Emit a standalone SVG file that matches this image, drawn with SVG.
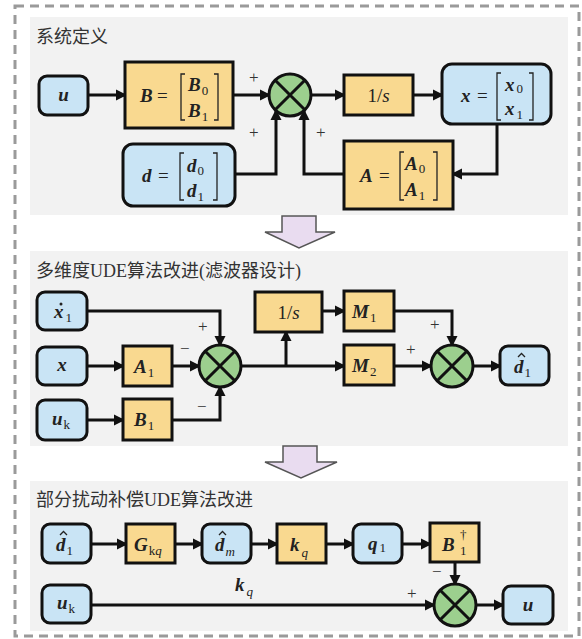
<svg xmlns="http://www.w3.org/2000/svg" width="582" height="639" viewBox="0 0 582 639">
  <style>
    .frame { fill: none; stroke: #9a9a9a; stroke-width: 3; stroke-dasharray: 9 6; }
    .panel { fill: #f2f2f2; }
    .title { font-family: "Liberation Serif", "Noto Sans CJK SC", serif; font-size: 18px; fill: #333; }
    .blk { fill: #f9d990; stroke: #111; stroke-width: 3; }
    .sig { fill: #c9e4f5; stroke: #111; stroke-width: 3; }
    .sum { fill: #9ccf8e; stroke: #111; stroke-width: 3; }
    .xl { stroke: #111; stroke-width: 3; }
    .wire { fill: none; stroke: #111; stroke-width: 3; }
    .arr { marker-end: url(#ah); }
    .brk { fill: none; stroke: #222; stroke-width: 1.3; }
    .hat { fill: none; stroke: #222; stroke-width: 1.3; }
    .m { font-family: "Liberation Serif", serif; font-size: 19px; font-weight: bold; font-style: italic; fill: #222; }
    .r { font-family: "Liberation Serif", serif; font-size: 19px; fill: #222; }
    .sub { font-family: "Liberation Serif", serif; font-size: 13px; font-weight: normal; font-style: normal; fill: #222; }
    .subi { font-family: "Liberation Serif", serif; font-size: 13px; font-weight: normal; font-style: italic; fill: #222; }
    .sgn { font-family: "Liberation Serif", serif; font-size: 17px; fill: #333; }
    .big { fill: #e9dcf0; stroke: #555; stroke-width: 1.5; }
  </style>
  <defs>
    <marker id="ah" markerWidth="12" markerHeight="12" refX="9" refY="6" orient="auto" markerUnits="userSpaceOnUse">
      <path d="M0,0.5 L11,6 L0,11.5 z" fill="#111"/>
    </marker>
  </defs>

  <rect width="582" height="639" fill="#ffffff"/>
  <rect class="frame" x="15" y="6" width="564" height="630"/>

  <!-- panels -->
  <rect class="panel" x="30" y="17" width="538" height="198"/>
  <rect class="panel" x="30" y="251" width="538" height="195"/>
  <rect class="panel" x="30" y="481" width="538" height="150"/>

  <text class="title" x="36" y="43">系统定义</text>
  <text class="title" x="36" y="277">多维度UDE算法改进(滤波器设计)</text>
  <text class="title" x="36" y="506">部分扰动补偿UDE算法改进</text>

  <!-- transition arrows -->
  <polygon class="big" points="282,216 316,216 316,232 335,232 299,248 265,232 282,232"/>
  <polygon class="big" points="283,446 317,446 317,462 337,462 301,478 265,462 283,462"/>

  <!-- connectors -->
  <g id="connectors">
    <!-- system definition -->
    <path class="wire arr" d="M88,95 H125"/>
    <path class="wire arr" d="M233,95 H269"/>
    <path class="wire arr" d="M235,174 H276 V111"/>
    <path class="wire arr" d="M344,174 H304 V111"/>
    <path class="wire arr" d="M311,95 H344"/>
    <path class="wire arr" d="M413,95 H442"/>
    <path class="wire arr" d="M497,125 V174 H453"/>
    <!-- filter design -->
    <path class="wire arr" d="M87,311 H220 V345"/>
    <path class="wire arr" d="M87,366 H123"/>
    <path class="wire arr" d="M172,366 H199"/>
    <path class="wire arr" d="M87,420 H123"/>
    <path class="wire arr" d="M172,420 H220 V387"/>
    <path class="wire arr" d="M241,366 H344"/>
    <path class="wire arr" d="M286,366 V332"/>
    <path class="wire arr" d="M322,311 H344"/>
    <path class="wire arr" d="M394,311 H452 V345"/>
    <path class="wire arr" d="M394,366 H431"/>
    <path class="wire arr" d="M473,366 H500"/>
    <!-- partial compensation -->
    <path class="wire arr" d="M91,544 H126"/>
    <path class="wire arr" d="M175,544 H202"/>
    <path class="wire arr" d="M251,544 H277"/>
    <path class="wire arr" d="M326,544 H353"/>
    <path class="wire arr" d="M402,544 H430"/>
    <path class="wire arr" d="M455,562 V584"/>
    <path class="wire arr" d="M91,605 H434"/>
    <path class="wire arr" d="M476,605 H503"/>
  </g>

  <!-- sign labels -->
  <g id="signs">
    <text class="sgn" x="249" y="83">+</text>
    <text class="sgn" x="249" y="138">+</text>
    <text class="sgn" x="316" y="138">+</text>
    <text class="sgn" x="198" y="332">+</text>
    <text class="sgn" x="180" y="354">−</text>
    <text class="sgn" x="197" y="412">−</text>
    <text class="sgn" x="430" y="330">+</text>
    <text class="sgn" x="406" y="355">+</text>
    <text class="sgn" x="432" y="577">−</text>
    <text class="sgn" x="407" y="599">+</text>
  </g>

  <!-- ===== system definition ===== -->
  <g id="u-in">
    <rect class="sig" x="39" y="76" width="49" height="39" rx="8"/>
    <text class="m" x="63.5" y="101" text-anchor="middle">u</text>
  </g>
  <g id="B-mat">
    <rect class="blk" x="125" y="62" width="108" height="66"/>
    <text class="m" x="140" y="102">B</text>
    <text class="r" x="157" y="102">=</text>
    <path class="brk" d="M185,74 H181 V120 H185 M214,74 H218 V120 H214"/>
    <text class="m" x="188" y="91">B<tspan class="sub" dx="1" dy="4">0</tspan></text>
    <text class="m" x="188" y="117">B<tspan class="sub" dx="1" dy="4">1</tspan></text>
  </g>
  <g id="d-vec">
    <rect class="sig" x="123" y="144" width="112" height="62" rx="10"/>
    <text class="m" x="142" y="182">d</text>
    <text class="r" x="158" y="182">=</text>
    <path class="brk" d="M184,153 H180 V200 H184 M213,153 H217 V200 H213"/>
    <text class="m" x="187" y="172">d<tspan class="sub" dx="1" dy="3">0</tspan></text>
    <text class="m" x="187" y="197">d<tspan class="sub" dx="1" dy="4">1</tspan></text>
  </g>
  <g id="sum-a">
    <circle class="sum" cx="290" cy="95" r="21"/>
    <path class="xl" d="M275.2,80.2 L304.8,109.8 M304.8,80.2 L275.2,109.8"/>
  </g>
  <g id="integ-a">
    <rect class="blk" x="344" y="75" width="69" height="40"/>
    <text class="r" x="378.5" y="102" text-anchor="middle" font-size="20">1/<tspan font-style="italic">s</tspan></text>
  </g>
  <g id="x-vec">
    <rect class="sig" x="442" y="64" width="109" height="60" rx="10"/>
    <text class="m" x="461" y="102">x</text>
    <text class="r" x="477" y="102">=</text>
    <path class="brk" d="M501,73 H497 V120 H501 M529,73 H533 V120 H529"/>
    <text class="m" x="505" y="91">x<tspan class="sub" dx="2" dy="2">0</tspan></text>
    <text class="m" x="505" y="115">x<tspan class="sub" dx="2" dy="4">1</tspan></text>
  </g>
  <g id="A-mat">
    <rect class="blk" x="344" y="141" width="109" height="68"/>
    <text class="m" x="360" y="182">A</text>
    <text class="r" x="379" y="182">=</text>
    <path class="brk" d="M404,152 H400 V200 H404 M433,152 H437 V200 H433"/>
    <text class="m" x="405" y="170">A<tspan class="sub" dx="1" dy="3">0</tspan></text>
    <text class="m" x="405" y="196">A<tspan class="sub" dx="1" dy="4">1</tspan></text>
  </g>

  <!-- ===== filter design ===== -->
  <g id="x1dot">
    <rect class="sig" x="37" y="292" width="50" height="38" rx="8"/>
    <!-- time-derivative dot -->
    <circle cx="61" cy="304" r="1.5" fill="#222"/>
    <text class="m" x="54" y="318">x<tspan class="sub" dx="2" dy="4">1</tspan></text>
  </g>
  <g id="x-in">
    <rect class="sig" x="37" y="347" width="50" height="38" rx="8"/>
    <text class="m" x="62" y="371" text-anchor="middle">x</text>
  </g>
  <g id="uk-a">
    <rect class="sig" x="37" y="400" width="50" height="40" rx="8"/>
    <text class="m" x="52" y="425">u<tspan class="sub" dx="1" dy="4">k</tspan></text>
  </g>
  <g id="A1">
    <rect class="blk" x="123" y="346" width="49" height="40"/>
    <text class="m" x="134" y="373">A<tspan class="sub" dx="1" dy="4">1</tspan></text>
  </g>
  <g id="B1">
    <rect class="blk" x="123" y="399" width="49" height="41"/>
    <text class="m" x="134" y="426">B<tspan class="sub" dx="1" dy="4">1</tspan></text>
  </g>
  <g id="sum-b">
    <circle class="sum" cx="220" cy="366" r="21"/>
    <path class="xl" d="M205.2,351.2 L234.8,380.8 M234.8,351.2 L205.2,380.8"/>
  </g>
  <g id="integ-b">
    <rect class="blk" x="255" y="292" width="67" height="40"/>
    <text class="r" x="288.5" y="319" text-anchor="middle" font-size="20">1/<tspan font-style="italic">s</tspan></text>
  </g>
  <g id="M1">
    <rect class="blk" x="344" y="291" width="50" height="40"/>
    <text class="m" x="352" y="318">M<tspan class="sub" dx="1" dy="4">1</tspan></text>
  </g>
  <g id="M2">
    <rect class="blk" x="344" y="345" width="50" height="40"/>
    <text class="m" x="352" y="372">M<tspan class="sub" dx="1" dy="4">2</tspan></text>
  </g>
  <g id="sum-c">
    <circle class="sum" cx="452" cy="366" r="21"/>
    <path class="xl" d="M437.2,351.2 L466.8,380.8 M466.8,351.2 L437.2,380.8"/>
  </g>
  <g id="d1hat-a">
    <rect class="sig" x="500" y="346" width="49" height="39" rx="8"/>
    <path class="hat" d="M518,357 L521.5,353.5 L525,357"/>
    <text class="m" x="514" y="373">d<tspan class="sub" dx="1" dy="4">1</tspan></text>
  </g>

  <!-- ===== partial compensation ===== -->
  <g id="d1hat-b">
    <rect class="sig" x="42" y="524" width="49" height="39" rx="8"/>
    <path class="hat" d="M60,535 L63.5,531.5 L67,535"/>
    <text class="m" x="56" y="551">d<tspan class="sub" dx="1" dy="4">1</tspan></text>
  </g>
  <g id="Gkq">
    <rect class="blk" x="126" y="524" width="49" height="39"/>
    <text class="m" x="134" y="551">G<tspan class="sub" dx="1" dy="4">k</tspan><tspan class="subi">q</tspan></text>
  </g>
  <g id="dm-hat">
    <rect class="sig" x="202" y="524" width="49" height="39" rx="8"/>
    <path class="hat" d="M219,535 L222.5,531.5 L226,535"/>
    <text class="m" x="215" y="551">d<tspan class="subi" dx="1" dy="5">m</tspan></text>
  </g>
  <g id="kq">
    <rect class="blk" x="277" y="524" width="49" height="39"/>
    <text class="m" x="290" y="551">k<tspan class="subi" dx="2" dy="6">q</tspan></text>
  </g>
  <g id="q1">
    <rect class="sig" x="353" y="524" width="49" height="39" rx="8"/>
    <text class="m" x="368" y="550">q<tspan class="sub" dx="2" dy="2">1</tspan></text>
  </g>
  <g id="B1dag">
    <rect class="blk" x="430" y="523" width="49" height="39"/>
    <text class="m" x="442" y="551">B</text>
    <text class="sub" x="460" y="539">†</text>
    <text class="sub" x="460" y="555">1</text>
  </g>
  <g id="uk-b">
    <rect class="sig" x="42" y="585" width="49" height="38" rx="8"/>
    <text class="m" x="57" y="609">u<tspan class="sub" dx="1" dy="4">k</tspan></text>
  </g>
  <g id="sum-d">
    <circle class="sum" cx="455" cy="605" r="21"/>
    <path class="xl" d="M440.2,590.2 L469.8,619.8 M469.8,590.2 L440.2,619.8"/>
  </g>
  <g id="u-out">
    <rect class="sig" x="503" y="586" width="50" height="38" rx="8"/>
    <text class="m" x="528" y="611" text-anchor="middle">u</text>
  </g>
  <text class="m" x="235" y="591">k<tspan class="subi" dx="2" dy="5">q</tspan></text>
</svg>
